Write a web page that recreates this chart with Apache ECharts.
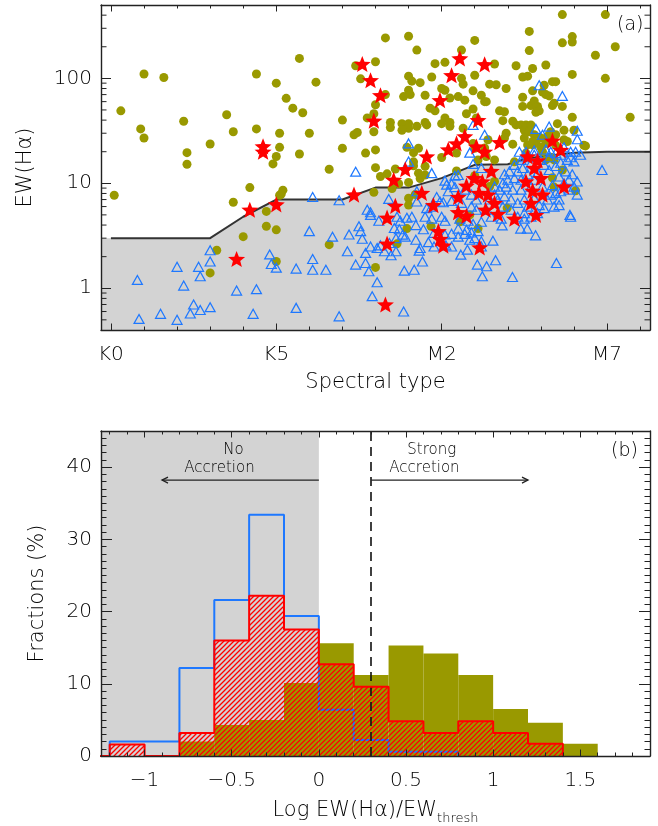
<!DOCTYPE html>
<html><head><meta charset="utf-8">
<script src="https://cdn.jsdelivr.net/npm/echarts@6/dist/echarts.min.js"></script>
<style>html,body{margin:0;padding:0;background:#fff}#c{width:658px;height:826px}</style>
</head><body><div id="c"></div>
<script>
// ---------------- Panel (a) data: [spectral type index (K0=0 ... K7=7, M0=8 ... M7=15), EW(Halpha)] ----------------
const oliveStars = [
[0.1,7.7],[0.3,49],[1.0,110],[0.9,33],[1.0,27],[1.6,102],[2.2,39],[2.3,19.6],[2.3,15.2],[3.0,23.7],[3.5,45],[3.7,31],[4.2,9.1],[3.7,6.6],[4.0,3.1],[3.2,2.3],[3.0,1.4],[4.4,110],[4.4,33],[5.0,90],[5.1,30],[5.1,22],[5.0,18],[4.9,15.3],[5.3,64.5],[5.5,52],[5.8,47],[5.7,155],[6.2,92],[6.0,30],[5.7,19],[6.6,13.6],[5.2,8.6],[5.1,7.7],[5.15,7.9],[4.7,5.4],[4.7,3.9],[5.0,3.6],[5.0,1.8],[6.6,2.6],
[8.3,243],[9.0,252],[9.25,186],[11.0,230],[10.6,186],[8.0,144],[7.4,132],[7.55,99],[9.0,105],[9.1,94],[9.35,91],[9.8,138],[10.1,142],[9.7,103],[11.0,107],[10.6,100],[10.65,88],[9.0,77],[9.05,70],[8.85,67],[9.5,69],[8.3,70],[8.0,56],[7.95,46],[10.0,80],[10.1,77],[10.5,67],[10.7,62],[10.25,65],[10.95,76],[11.2,69],[9.65,52],[9.8,49],[10.75,46],[10.95,51],[11.3,60],
[13.65,405],[14.95,405],[12.65,280],[13.95,250],[13.95,222],[13.65,218],[15.25,200],[12.65,184],[14.65,166],[11.6,137],[12.25,132],[12.75,124],[13.15,134],[12.45,103],[12.6,105],[13.95,109],[14.95,100],[11.45,88],[11.65,87],[11.95,80],[13.35,93],[13.45,93],[13.1,86],[12.75,76],[13.05,74],[13.15,70],[13.25,68],[12.45,66],[11.35,60],[12.45,54],[12.7,55],[12.8,61],[12.9,54],[13.35,55],[13.4,58],[13.65,54],[11.75,49],[12.85,47.5],[12.95,49],
[7.0,40],[7.75,42],[8.45,38],[8.45,34],[8.8,37],[9.0,37],[9.0,33.5],[8.8,32],[9.25,35],[9.5,38],[9.55,36],[10.1,42],[10.0,37],[10.25,38],[10.25,35],[10.65,33.5],[11.05,42],[7.35,29],[7.45,30.5],[7.95,31],[7.0,21.6],[7.7,19.4],[8.0,20.8],[9.15,19.6],[9.3,21.6],[8.95,22],[10.0,17.6],[10.45,19.4],[10.95,24],[11.0,21.6],[8.0,14.1],[8.15,11.6],[8.35,12.3],[8.6,13.7],[9.15,16],[9.15,14.7],[9.3,12.5],[9.5,14.5],[9.35,11.1],[9.5,12],[10.45,13.1],[9.0,10.2],[8.7,9.9],[9.0,7.2],[8.5,8.9],[7.95,8.2],[9.2,7.8],[9.0,6.2],[11.0,11.8],[11.1,16.7],
[11.85,39.5],[12.25,36],[12.4,36],[12.55,36],[12.7,36],[13.5,37],[13.95,42.6],[14.0,32],[14.3,23],[15.7,42.6],[11.95,30],[11.9,27],[12.15,23.6],[12.6,23.2],[12.75,23.2],[12.85,24.2],[13.15,24],[13.2,28],[13.7,26],[11.4,26],[11.3,21.7],[11.35,18],[11.6,16.7],[12.2,16],[12.55,19.4],[13.05,20],[13.15,16.7],[13.4,16.7],[13.65,13.4],[11.6,10.4],[11.45,9.3],[11.98,5.8],[14.05,8.5],[13.35,11.3],[13.4,9.2],[11.9,48],[12.15,39],[12.5,32],[12.65,31],[12.8,29],[13.0,27],[13.3,31],[13.45,29],[13.7,32],[12.5,27],[12.75,25],[13.0,22],[13.45,23],[13.8,25],[13.3,17.7],[14.35,22.7],
[8.65,2.65],[8.0,1.58],[9.68,3.9],[8.95,3.7],[10.85,5.0],[11.1,3.7],[10.55,4.3]
];
const blueStars = [
[0.8,1.2],[0.85,0.51],[1.5,0.57],[2.0,0.5],[2.0,1.6],[2.2,1.06],[2.5,0.7],[2.4,0.575],[2.7,0.62],[2.65,1.6],[2.7,1.3],[3.0,2.3],[3.0,1.8],[3.0,0.66],[3.8,0.95],[4.4,0.98],[4.3,0.57],[4.8,2.1],[4.85,1.7],[5.0,1.57],[5.6,1.54],[5.6,0.65],[6.1,1.9],[6.1,1.5],[6.0,3.5],[6.1,7.4],[6.5,1.5],[6.7,3.1],
[7.2,3.25],[7.5,3.9],[7.55,3.5],[7.6,2.96],[7.85,2.5],[8.05,2.42],[8.15,2.56],[7.15,2.25],[7.7,2.17],[7.7,1.74],[7.4,1.68],[7.8,1.45],[8.05,1.14],[7.9,0.84],[6.9,0.54],[8.85,0.6],[8.87,1.47],[9.17,1.5],[9.42,1.8],[9.32,2.28],[9.35,2.42],[8.62,2.25],[8.47,2.06],[8.27,2.25],[8.42,2.7],[8.62,3.0],[8.82,3.24],[8.9,3.1],[8.57,3.75],[8.72,3.65],[9.22,2.9],[9.22,4.0],[9.45,3.65],[9.77,3.37],[9.6,2.75],[9.77,2.5],[10.13,2.56],[10.3,2.5],[10.58,2.09],[10.78,2.33],[11.08,1.68],[11.23,1.3],[11.2,2.5],[10.3,3.3],[10.5,3.1],[10.7,3.3],[10.1,3.25],
[7.85,5.0],[8.1,4.4],[8.65,4.8],[8.75,4.4],[8.95,4.7],[9.1,4.8],[9.5,4.8],[9.7,4.6],[10.0,4.8],[10.1,4.4],[10.55,4.6],[10.8,4.4],[10.95,4.1],[11.2,4.3],[10.5,3.7],[10.75,3.6],[10.9,3.4],[11.1,3.5],[10.85,2.9],[11.0,3.0],[11.2,2.8],
[11.55,2.84],[11.63,1.85],[11.36,1.62],[12.14,1.28],[13.47,1.74],[12.84,3.19],[12.39,3.7],[12.59,3.7],[11.83,3.97],[12.5,4.6],[13.88,5.0],
[9.0,24],[7.4,12.9],[9.0,16.1],[9.7,12.5],[10.95,36],[10.85,19.6],[10.95,15.3],[6.9,6.9],[8.4,7.1],[7.75,5.6],[7.85,5.3],
[9.25,8.4],[9.25,6.7],[9.55,5.8],[9.7,6.0],[9.85,7.4],[10.1,10.6],[10.15,9.7],[10.3,9.9],[10.4,11.8],[10.4,9.2],[10.2,8.4],[9.95,6.7],[10.05,6.6],[10.3,6.8],[10.7,8.7],[10.9,7.8],[11.05,7.0],[10.9,6.0],[11.05,5.6],[10.6,6.5],[10.5,12],[11.2,14],
[12.95,86],[13.65,68],
[12.35,20],[12.55,20],[12.8,20.5],[13.15,21],[13.3,20],[13.45,19.4],[13.7,22],[13.9,20],[14.2,18.7],[13.9,17.7],[14.0,16.2],[13.8,16.7],[13.6,15.7],[13.45,14.6],[13.75,13],[13.95,12.2],[13.85,10.8],[13.7,10],[13.55,11.6],[13.25,13.4],[13.1,15],[13.0,16.7],[12.7,15.5],[12.45,14],[12.3,13],[12.2,15],[12.05,13],[12.2,11.2],[12.4,10.8],[12.0,10.8],[11.95,9.3],[12.15,8.7],[12.4,8.7],[11.9,7.5],[12.1,7.0],[12.3,6.5],[12.5,7.0],[12.6,6.0],[12.8,7.2],[12.95,6.2],[13.2,7.0],[13.3,7.8],[13.45,8.1],[13.35,9.6],[13.6,8.4],[13.55,7.0],[13.4,6.0],[13.1,5.8],[12.9,5.2],[12.7,4.8],[12.5,5.2],[12.3,4.8],[12.1,5.6],[11.85,6.0],[11.7,7.0],[11.6,7.8],[11.75,8.7],[11.85,10],[11.6,9.3],[11.45,7.0],[11.35,5.6],[11.5,4.8],[11.8,4.6],[14.0,9.3],[14.1,10.4],[13.85,8.7],[12.8,10.8],[13.05,9.3],[12.7,9.3],[12.9,12.6],[12.6,12.2],[11.9,12.2],[12.4,16.7],[12.5,17.7],[12.8,18.7],[13.25,17.7],[13.6,18.7],[14.05,20],[13.55,6.2],[14.1,7.8],
[13.25,34.7],[12.85,33],[13.05,29],[14.1,31.7],[14.1,26.3],[11.3,29],[14.85,13.4],[13.9,4.8]
];
const redStars = [
[4.6,22.5],[4.6,20],[4.2,5.6],[5.0,6.3],[3.8,1.9],
[7.6,137],[7.85,96],[8.15,69],[10.55,155],[10.3,107],[9.95,62],[11.3,136],
[7.95,39.5],[9.55,18],[10.2,21],[10.45,24],[10.7,28],[11.1,40],[11.05,22.4],[8.9,13.6],[8.55,10.8],[7.35,7.8],[9.4,8.1],[8.6,6.1],[8.35,4.7],[9.75,6.2],[10.75,9.5],[10.5,7.4],[10.5,5.3],[10.75,4.9],
[11.75,24.6],[11.3,20],[13.35,25.5],[13.6,20.8],[12.6,18],[12.9,16.5],[12.8,14],[11.5,13.1],[13.0,11.2],[12.55,10.4],[13.7,9.3],[12.75,8.5],[13.05,7.8],[11.4,7.8],[12.7,6.5],[11.6,6.5],[12.2,4.6],[11.7,5.1],[12.85,5.0],
[8.35,2.66],[9.9,3.5],[9.95,2.95],[10.05,2.55],[8.3,0.7],[11.15,2.45],
[10.98,11.2],[11.23,10.4],[11.13,8.1],[11.33,5.6]
];
// accretion threshold curve
const thrSpType = [0, 3, 4, 5, 7, 8, 9, 10, 11, 12, 12.5, 13, 14, 15, 16.3];
const thrEW     = [3, 3, 4.8, 7, 7, 9.1, 9.1, 11.2, 15, 15.2, 17, 18, 19.5, 20, 20];
const spTickValues = [0, 5, 10, 15];
const spTickLabels = ['K0', 'K5', 'M2', 'M7'];
const spMinorTicks = [1, 2, 3, 4, 6, 7, 8, 9, 11, 12, 13, 14, 16];
const ewMinorTicks = [0.5,0.6,0.7,0.8,0.9,2,3,4,5,6,7,8,9,20,30,40,50,60,70,80,90,200,300,400];

// ---------------- Panel (b) data: histograms (%), bin width 0.2 ----------------
const binLeft   = [-1.4,-1.2,-1.0,-0.8,-0.6,-0.4,-0.2,0.0,0.2,0.4,0.6,0.8,1.0,1.2,1.4];
const oliveFrac = [0, 0, 0, 2.0, 4.3, 5.0, 10.1, 15.6, 11.2, 15.3, 14.2, 11.2, 6.5, 4.6, 1.7];
const blueFrac  = [0, 2.0, 2.0, 12.2, 21.6, 33.4, 19.4, 6.4, 2.2, 0.6, 0.6, 0, 0, 0, 0];
const redFrac   = [0, 1.6, 0, 3.2, 16.0, 22.2, 17.5, 12.7, 9.6, 4.8, 3.2, 4.8, 3.2, 1.7, 0];
const BIN_W = 0.2;
const logTickValues = [-1, -0.5, 0, 0.5, 1, 1.5];
const fracTickValues = [0, 10, 20, 30, 40];
const noAccretionEdge = 0;      // log EW/EWthresh = 0
const strongAccretionEdge = 0.3;
const annArrows = [[0, -0.9, 38.2], [0.3, 1.2, 38.2]];
const annText = ['No', 'Accretion', 'Strong', 'Accretion'];
const annX = [-0.49, -0.57, 0.648, 0.606];
const annY = [42.4, 39.8, 42.4, 39.8];

// ---------------- styling ----------------
const FONT = 'DejaVu Sans';
const FW = 300;
const AXC = '#222';
const TXT = '#000';
const OLIVE = '#999900';
const BLUE = '#1e78ff';
const RED = '#ff0000';
const GRAY = '#d3d3d3';
const TOP = {x:[-0.3, 16.3], y:[0.4, 500]};
const BOT = {x:[-1.25, 1.9], y:[0, 45]};

const lbMinor = [], ybMinor = [];
for (let i = -12; i <= 19; i++) { if (i % 5 !== 0) lbMinor.push(+(i / 10).toFixed(1)); }
for (let i = 1; i <= 44; i++) { if (i % 10 !== 0) ybMinor.push(i); }

function starPath() {
  let d = '';
  for (let i = 0; i < 10; i++) {
    const r = i % 2 === 0 ? 10 : 4.3;
    const a = -Math.PI / 2 + i * Math.PI / 5;
    d += (i ? 'L' : 'M') + (r * Math.cos(a)).toFixed(2) + ' ' + (r * Math.sin(a)).toFixed(2) + ' ';
  }
  return 'path://' + d + 'Z';
}

function ax(grid, pos, range, ticks, len, o) {
  o = o || {};
  const a = {
    type: o.type || 'value', gridIndex: grid, position: pos, min: range[0], max: range[1], z: 10,
    splitLine: {show: false},
    axisLine: {show: !!o.line, onZero: false, lineStyle: {color: AXC, width: 1.4}},
    axisTick: {show: true, inside: true, length: len, lineStyle: {color: AXC, width: 1}},
    axisLabel: {show: false}
  };
  if (ticks) a.axisTick.customValues = ticks;
  if (o.type === 'log') a.logBase = 10;
  if (o.labels) {
    a.axisLabel = Object.assign({show: true, color: TXT, fontFamily: FONT, fontWeight: FW, fontSize: 20, margin: o.margin}, o.labels);
    if (ticks) a.axisLabel.customValues = ticks;
  }
  if (o.name) {
    a.name = o.name; a.nameLocation = 'middle'; a.nameGap = o.nameGap;
    a.nameTextStyle = Object.assign({color: TXT, fontFamily: FONT, fontWeight: FW, fontSize: 21}, o.nameStyle || {});
    if (o.nameRotate) a.nameRotate = o.nameRotate;
  }
  return a;
}

const xAxes = [
  ax(0, 'bottom', TOP.x, spTickValues, 6.5, {line: true, margin: 15,
     labels: {formatter: v => spTickLabels[spTickValues.indexOf(v)]},
     name: 'Spectral type', nameGap: 42}),
  ax(0, 'bottom', TOP.x, spMinorTicks, 3.5),
  ax(0, 'top', TOP.x, spTickValues, 6.5, {line: true}),
  ax(0, 'top', TOP.x, spMinorTicks, 3.5),
  ax(1, 'bottom', BOT.x, logTickValues, 6.5, {line: true, margin: 15,
     labels: {formatter: v => (v < 0 ? '\u2212' + Math.abs(v) : String(v))},
     name: '{m|Log EW(H\u03b1)/EW}{s|thresh}', nameGap: 40,
     nameStyle: {rich: {m: {fontSize: 21, fontFamily: FONT, fontWeight: FW, color: TXT}, s: {fontSize: 13, fontFamily: FONT, fontWeight: FW, color: TXT, padding: [16, 0, 0, 0]}}}}),
  ax(1, 'bottom', BOT.x, lbMinor, 3.5),
  ax(1, 'top', BOT.x, logTickValues, 6.5, {line: true}),
  ax(1, 'top', BOT.x, lbMinor, 3.5)
];
const yAxes = [
  ax(0, 'left', TOP.y, null, 10, {type: 'log', line: true, margin: 9,
     labels: {showMinLabel: false, showMaxLabel: false},
     name: 'EW(H\u03b1)', nameGap: 65, nameRotate: 90}),
  ax(0, 'right', TOP.y, null, 10, {type: 'log', line: true}),
  ax(1, 'left', BOT.y, fracTickValues, 11, {line: true, margin: 9,
     name: 'Fractions (%)', nameGap: 53, nameRotate: 90, labels: {}}),
  ax(1, 'left', BOT.y, ybMinor, 5.5),
  ax(1, 'right', BOT.y, fracTickValues, 11, {line: true}),
  ax(1, 'right', BOT.y, ybMinor, 5.5)
];

// hatch pattern
const hatch = document.createElement('canvas');
hatch.width = 5; hatch.height = 5;
(function () {
  const c = hatch.getContext('2d');
  c.strokeStyle = RED; c.lineWidth = 1.3;
  c.beginPath();
  c.moveTo(0, 5); c.lineTo(5, 0);
  c.moveTo(-1, 1); c.lineTo(1, -1);
  c.moveTo(4, 6); c.lineTo(6, 4);
  c.stroke();
})();

function stepPoints(vals) {
  let last = -1;
  vals.forEach((v, i) => { if (v > 0) last = i; });
  const pts = [[binLeft[0], 0]];
  for (let i = 0; i <= last; i++) {
    pts.push([binLeft[i], vals[i]]);
    pts.push([+(binLeft[i] + BIN_W).toFixed(2), vals[i]]);
  }
  pts.push([+(binLeft[last] + BIN_W).toFixed(2), 0]);
  return pts;
}
function barRender(fill) {
  return function (params, api) {
    const x0 = api.value(0), v = api.value(1);
    if (!(v > 0)) return null;
    const p0 = api.coord([x0, v]);
    const p1 = api.coord([x0 + BIN_W, 0]);
    return {type: 'rect', shape: {x: p0[0], y: p0[1], width: p1[0] - p0[0], height: p1[1] - p0[1]},
            style: {fill: fill, stroke: null}};
  };
}

const thrLine = thrSpType.map((x, i) => [x, thrEW[i]]);
const thrFill = [[TOP.x[0], thrEW[0]]].concat(thrLine);

const B = {xAxisIndex: 4, yAxisIndex: 2};
const T = {xAxisIndex: 0, yAxisIndex: 0};
const annFont = FW + ' 15px "DejaVu Sans"';

const option = {
  animation: false,
  backgroundColor: '#fff',
  grid: [
    {left: 101, top: 5, width: 549, height: 325},
    {left: 101, top: 431, width: 549, height: 325}
  ],
  xAxis: xAxes,
  yAxis: yAxes,
  graphic: [
    {type: 'text', left: 617, top: 16, z: 20, style: {text: '(a)', fill: TXT, font: FW + ' 19px "DejaVu Sans"'}},
    {type: 'text', left: 611, top: 442, z: 20, style: {text: '(b)', fill: TXT, font: FW + ' 19px "DejaVu Sans"'}}
  ],
  series: [
    // ---- panel (a)
    Object.assign({type: 'line', data: thrFill, symbol: 'none', z: 1, silent: true,
      lineStyle: {width: 0, opacity: 0}, areaStyle: {color: GRAY, opacity: 1, origin: 'start'}}, T),
    Object.assign({type: 'line', data: thrLine, symbol: 'none', z: 2, silent: true,
      lineStyle: {color: '#333', width: 2}}, T),
    Object.assign({type: 'scatter', data: oliveStars, symbol: 'circle', symbolSize: 9, z: 3,
      itemStyle: {color: OLIVE, opacity: 1}}, T),
    Object.assign({type: 'scatter', data: blueStars, symbol: 'triangle', symbolSize: [10, 9], z: 4,
      itemStyle: {color: 'rgba(0,0,0,0)', borderColor: BLUE, borderWidth: 1.2, opacity: 1}}, T),
    Object.assign({type: 'scatter', data: redStars, symbol: starPath(), symbolKeepAspect: true, symbolSize: 17, z: 5,
      itemStyle: {color: RED, opacity: 1}}, T),
    Object.assign({type: 'custom', z: 11, silent: true, data: ewMinorTicks.map(v => [TOP.x[0], v]),
      renderItem: function (params, api) {
        const v = api.value(1);
        const pL = api.coord([TOP.x[0], v]);
        const pR = api.coord([TOP.x[1], v]);
        return {type: 'group', children: [
          {type: 'line', shape: {x1: pL[0], y1: pL[1], x2: pL[0] + 5.5, y2: pL[1]}, style: {stroke: AXC, lineWidth: 1}},
          {type: 'line', shape: {x1: pR[0] - 5.5, y1: pR[1], x2: pR[0], y2: pR[1]}, style: {stroke: AXC, lineWidth: 1}}
        ]};
      }}, T),
    // ---- panel (b)
    Object.assign({type: 'custom', z: 1, silent: true, data: [[BOT.x[0], noAccretionEdge]],
      renderItem: function (params, api) {
        const p0 = api.coord([api.value(0), BOT.y[1]]);
        const p1 = api.coord([api.value(1), BOT.y[0]]);
        return {type: 'rect', shape: {x: p0[0], y: p0[1], width: p1[0] - p0[0], height: p1[1] - p0[1]}, style: {fill: GRAY}};
      }}, B),
    Object.assign({type: 'custom', z: 2, silent: true, data: binLeft.map((x, i) => [x, oliveFrac[i]]),
      renderItem: barRender(OLIVE)}, B),
    Object.assign({type: 'line', z: 3, silent: true, data: stepPoints(blueFrac), symbol: 'none',
      lineStyle: {color: BLUE, width: 2}}, B),
    Object.assign({type: 'custom', z: 4, silent: true, data: binLeft.map((x, i) => [x, redFrac[i]]),
      renderItem: barRender({image: hatch, repeat: 'repeat'})}, B),
    Object.assign({type: 'line', z: 5, silent: true, data: stepPoints(redFrac), symbol: 'none',
      lineStyle: {color: RED, width: 2},
      markLine: {silent: true, symbol: ['none', 'none'], label: {show: false},
        lineStyle: {color: '#111', width: 1.6, type: [9, 6]},
        data: [{xAxis: strongAccretionEdge}]}}, B),
    Object.assign({type: 'custom', z: 6, silent: true, data: annArrows,
      encode: {x: [0, 1], y: 2},
      renderItem: function (params, api) {
        const p0 = api.coord([api.value(0), api.value(2)]);
        const p1 = api.coord([api.value(1), api.value(2)]);
        const d = Math.sign(p1[0] - p0[0]);
        return {type: 'group', children: [
          {type: 'line', shape: {x1: p0[0], y1: p0[1], x2: p1[0], y2: p1[1]}, style: {stroke: '#222', lineWidth: 1.3}},
          {type: 'polyline', shape: {points: [[p1[0] - d * 6, p1[1] - 3], [p1[0], p1[1]], [p1[0] - d * 6, p1[1] + 3]]},
           style: {stroke: '#222', fill: null, lineWidth: 1.3}}
        ]};
      }}, B),
    Object.assign({type: 'custom', z: 6, silent: true, data: annX.map((x, i) => [x, annY[i], i]),
      renderItem: function (params, api) {
        const p = api.coord([api.value(0), api.value(1)]);
        return {type: 'text', x: p[0], y: p[1], style: {text: annText[api.value(2)], fill: TXT,
          font: annFont, align: 'center', verticalAlign: 'middle'}};
      }}, B)
  ]
};
const chart = echarts.init(document.getElementById('c'), null, {renderer: 'canvas'});
chart.setOption(option);
</script>
</body></html>
